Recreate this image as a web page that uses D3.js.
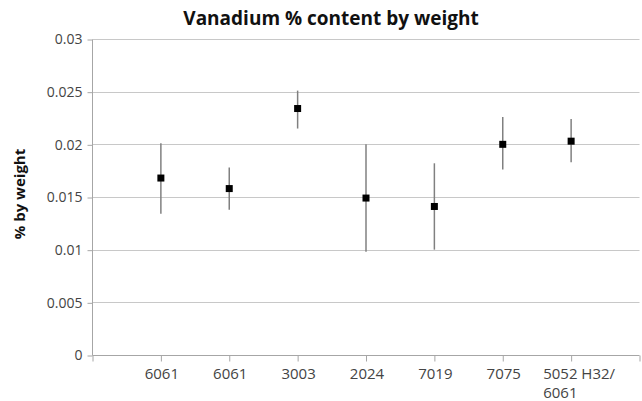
<!DOCTYPE html>
<html><head><meta charset="utf-8">
<script src="https://cdn.jsdelivr.net/npm/d3@7"></script>
<style>body{margin:0;background:#fff}svg{display:block}</style>
</head><body>
<svg id="c" width="642" height="401"></svg>
<script>
const categories = ["6061", "6061", "3003", "2024", "7019", "7075", "5052 H32/6061"];
const values = [0.0168, 0.0158, 0.0234, 0.0149, 0.0141, 0.0200, 0.0203];
const errHigh = [0.0201, 0.0178, 0.0251, 0.0200, 0.0182, 0.0226, 0.0224];
const errLow = [0.0134, 0.0138, 0.0215, 0.0098, 0.0100, 0.0176, 0.0183];
const yTicks = [0, 0.005, 0.01, 0.015, 0.02, 0.025, 0.03];
const title = "Vanadium % content by weight";
const yTitle = "% by weight";

const svg = d3.select("#c");
const x = d3.scaleLinear().domain([0, categories.length + 1]).range([92.5, 639.5]);
const y = d3.scaleLinear().domain([0, 0.03]).range([355, 39]);
const font = "'Open Sans', sans-serif";

// gridlines
svg.append("g").selectAll("line").data(yTicks.filter(d => d > 0)).join("line")
  .attr("x1", x(0)).attr("x2", x(categories.length + 1))
  .attr("y1", d => Math.round(y(d)) + 0.5).attr("y2", d => Math.round(y(d)) + 0.5)
  .attr("stroke", "#c8c8c8").attr("stroke-width", 1);

// y axis
const ya = svg.append("g").attr("transform", `translate(${x(0)},0.5)`)
  .call(d3.axisLeft(y).tickValues(yTicks).tickSize(5).tickPadding(5).tickFormat(d => d3.format("")(+d.toFixed(3))));
ya.select(".domain").attr("stroke", "#a6a6a6").attr("d", `M0,${y(0.03)}V${y(0)}`);
ya.selectAll(".tick line").attr("stroke", "#a6a6a6");
ya.selectAll(".tick text").attr("font-family", font).attr("font-size", 14).attr("fill", "#444");

// x axis
const xa = svg.append("g").attr("transform", `translate(0,${y(0) + 0.5})`)
  .call(d3.axisBottom(x).tickValues(d3.range(0, categories.length + 2)).tickSize(6).tickFormat(""));
xa.select(".domain").attr("stroke", "#a6a6a6").attr("d", `M${x(0)},0H${x(categories.length + 1)}`);
xa.selectAll(".tick line").attr("stroke", "#a6a6a6");

// x labels
const lab = svg.append("g").selectAll("text").data(categories).join("text")
  .attr("font-family", font).attr("font-size", 15).attr("fill", "#444")
  .attr("y", y(0) + 24);
lab.each(function(d, i) {
  const t = d3.select(this);
  const parts = d.includes("/") ? [d.slice(0, d.indexOf("/") + 1), d.slice(d.indexOf("/") + 1)] : [d];
  parts.forEach((p, j) => t.append("tspan").text(p).attr("dy", j === 0 ? 0 : 19));
  const w = t.select("tspan").node().getComputedTextLength();
  const x0 = x(i + 1) - w / 2 + (parts.length > 1 ? 8 : 1);
  t.selectAll("tspan").attr("x", x0);
});

// error bars
svg.append("g").selectAll("line").data(categories).join("line")
  .attr("x1", (d, i) => x(i + 1)).attr("x2", (d, i) => x(i + 1))
  .attr("y1", (d, i) => y(errHigh[i])).attr("y2", (d, i) => y(errLow[i]))
  .attr("stroke", "#808080").attr("stroke-width", 1.5);

// markers
svg.append("g").selectAll("rect").data(values).join("rect")
  .attr("x", (d, i) => x(i + 1) - 3.5).attr("y", d => y(d) - 3.5)
  .attr("width", 7).attr("height", 7).attr("fill", "#000");

// titles
svg.append("text").attr("x", 331).attr("y", 25).attr("text-anchor", "middle")
  .attr("font-family", font).attr("font-size", 19).attr("font-weight", "bold").attr("fill", "#111")
  .text(title);
svg.append("text").attr("transform", `translate(25,${194}) rotate(-90)`).attr("text-anchor", "middle")
  .attr("font-family", font).attr("font-size", 15).attr("font-weight", "bold").attr("fill", "#111")
  .text(yTitle);
</script>
</body></html>
